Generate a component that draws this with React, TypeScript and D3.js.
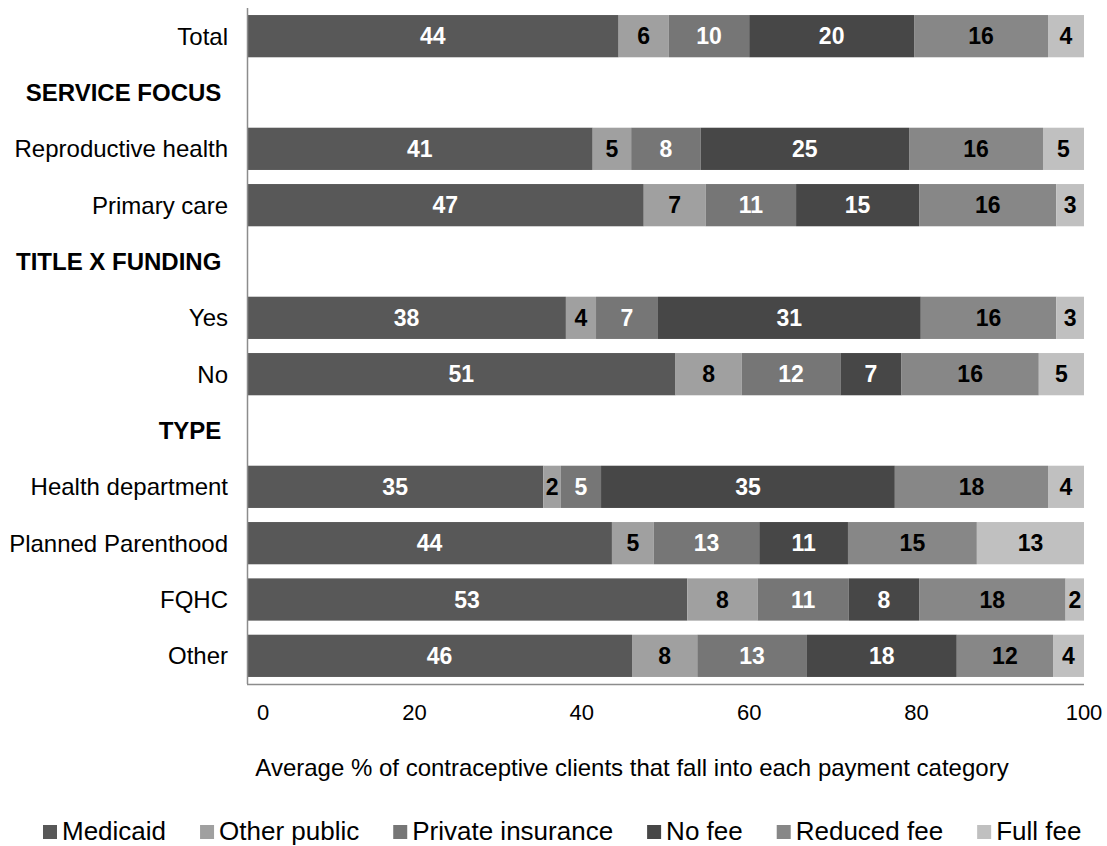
import * as d3 from 'd3';
import {useEffect, useRef} from 'react';

// rows of the chart, headers have no bars
const rows = [
	'Total',
	'SERVICE FOCUS',
	'Reproductive health',
	'Primary care',
	'TITLE X FUNDING',
	'Yes',
	'No',
	'TYPE',
	'Health department',
	'Planned Parenthood',
	'FQHC',
	'Other',
];
const headers = ['SERVICE FOCUS', 'TITLE X FUNDING', 'TYPE'];

const series = ['Medicaid', 'Other public', 'Private insurance', 'No fee', 'Reduced fee', 'Full fee'];
const colors = ['#585858', '#a0a0a0', '#767676', '#474747', '#878787', '#c0c0c0'];
const labelColors = ['#fff', '#000', '#fff', '#fff', '#000', '#000'];

const medicaid = [44.4, 41.3, 47.4, 38.1, 51.2, 35.4, 43.6, 52.6, 46.0];
const otherPublic = [6.0, 4.6, 7.4, 3.6, 7.9, 2.1, 5.0, 8.4, 7.8];
const privateIns = [9.6, 8.3, 10.8, 7.4, 11.8, 4.8, 12.6, 10.9, 13.1];
const noFee = [19.7, 24.9, 14.7, 31.4, 7.3, 35.1, 10.6, 8.4, 17.9];
const reducedFee = [16.0, 16.0, 16.4, 16.2, 16.4, 18.3, 15.4, 17.5, 11.5];
const fullFee = [4.3, 4.9, 3.3, 3.3, 5.4, 4.3, 12.8, 2.2, 3.7];
const barRows = ['Total', 'Reproductive health', 'Primary care', 'Yes', 'No', 'Health department', 'Planned Parenthood', 'FQHC', 'Other'];

const xTicks = [0, 20, 40, 60, 80, 100];
const axisTitle = 'Average % of contraceptive clients that fall into each payment category';

const W = 1107;
const H = 846;
const FONT = "'Liberation Sans', Arial, sans-serif";

export default function App() {
	const svgRef = useRef<SVGSVGElement>(null);

	useEffect(() => {
		const svg = d3.select(svgRef.current);
		svg.selectAll('*').remove();

		const x = d3.scaleLinear().domain([0, 100]).range([247, 1084]);
		const y = d3.scaleBand().domain(rows).range([8, 684]).paddingInner(0.25).paddingOuter(0.125);

		const table = barRows.map((r, i) => ({
			row: r,
			Medicaid: medicaid[i],
			'Other public': otherPublic[i],
			'Private insurance': privateIns[i],
			'No fee': noFee[i],
			'Reduced fee': reducedFee[i],
			'Full fee': fullFee[i],
		}));
		const stacked = d3.stack<any>().keys(series)(table);

		const layers = svg
			.append('g')
			.selectAll('g')
			.data(stacked)
			.join('g')
			.attr('fill', (_, i) => colors[i]);

		layers
			.selectAll('rect')
			.data((d) => d)
			.join('rect')
			.attr('x', (d) => x(d[0]))
			.attr('y', (d) => y(d.data.row)!)
			.attr('width', (d) => x(d[1]) - x(d[0]))
			.attr('height', y.bandwidth());

		layers
			.selectAll('text')
			.data((d, i) => d.map((s) => ({s, i})))
			.join('text')
			.attr('x', ({s}) => (x(s[0]) + x(s[1])) / 2)
			.attr('y', ({s}) => y(s.data.row)! + y.bandwidth() / 2)
			.attr('dy', '0.36em')
			.attr('text-anchor', 'middle')
			.attr('fill', ({i}) => labelColors[i])
			.style('font', `bold 23px ${FONT}`)
			.text(({s}) => Math.round(s[1] - s[0]));

		// axis lines
		svg
			.append('line')
			.attr('x1', x(0) + 0.5)
			.attr('x2', x(0) + 0.5)
			.attr('y1', 8)
			.attr('y2', 684)
			.attr('stroke', '#8c8c8c')
			.attr('stroke-width', 1.5);
		svg
			.append('line')
			.attr('x1', x(0))
			.attr('x2', x(100))
			.attr('y1', 684.5)
			.attr('y2', 684.5)
			.attr('stroke', '#8c8c8c')
			.attr('stroke-width', 1.5);

		// category labels
		svg
			.append('g')
			.selectAll('text')
			.data(rows)
			.join('text')
			.attr('x', 228)
			.attr('y', (d) => y(d)! + y.bandwidth() / 2)
			.attr('dy', '0.36em')
			.attr('text-anchor', 'end')
			.style('font', (d) => `${headers.includes(d) ? 'bold ' : ''}24px ${FONT}`)
			.text((d) => (headers.includes(d) ? d + '\u00a0' : d));

		// x tick labels
		svg
			.append('g')
			.selectAll('text')
			.data(xTicks)
			.join('text')
			.attr('x', (d) => (d === 0 ? x(d) + 16 : x(d)))
			.attr('y', 712)
			.attr('dy', '0.36em')
			.attr('text-anchor', 'middle')
			.style('font', `22px ${FONT}`)
			.text((d) => d);

		svg
			.append('text')
			.attr('x', 632)
			.attr('y', 776)
			.attr('text-anchor', 'middle')
			.style('font', `24px ${FONT}`)
			.text(axisTitle);

		// legend
		const ctx = document.createElement('canvas').getContext('2d')!;
		ctx.font = `26px ${FONT}`;
		let lx = 43;
		const legend = svg.append('g');
		series.forEach((s, i) => {
			legend.append('rect').attr('x', lx).attr('y', 825).attr('width', 14).attr('height', 14).attr('fill', colors[i]);
			legend
				.append('text')
				.attr('x', lx + 19)
				.attr('y', 840)
				.style('font', `26px ${FONT}`)
				.text(s);
			lx += 19 + ctx.measureText(s).width + 34;
		});
	}, []);

	return (
		<svg
			ref={svgRef}
			width={W}
			height={H}
			style={{position: 'absolute', left: 0, top: 0, background: '#fff'}}
		/>
	);
}
